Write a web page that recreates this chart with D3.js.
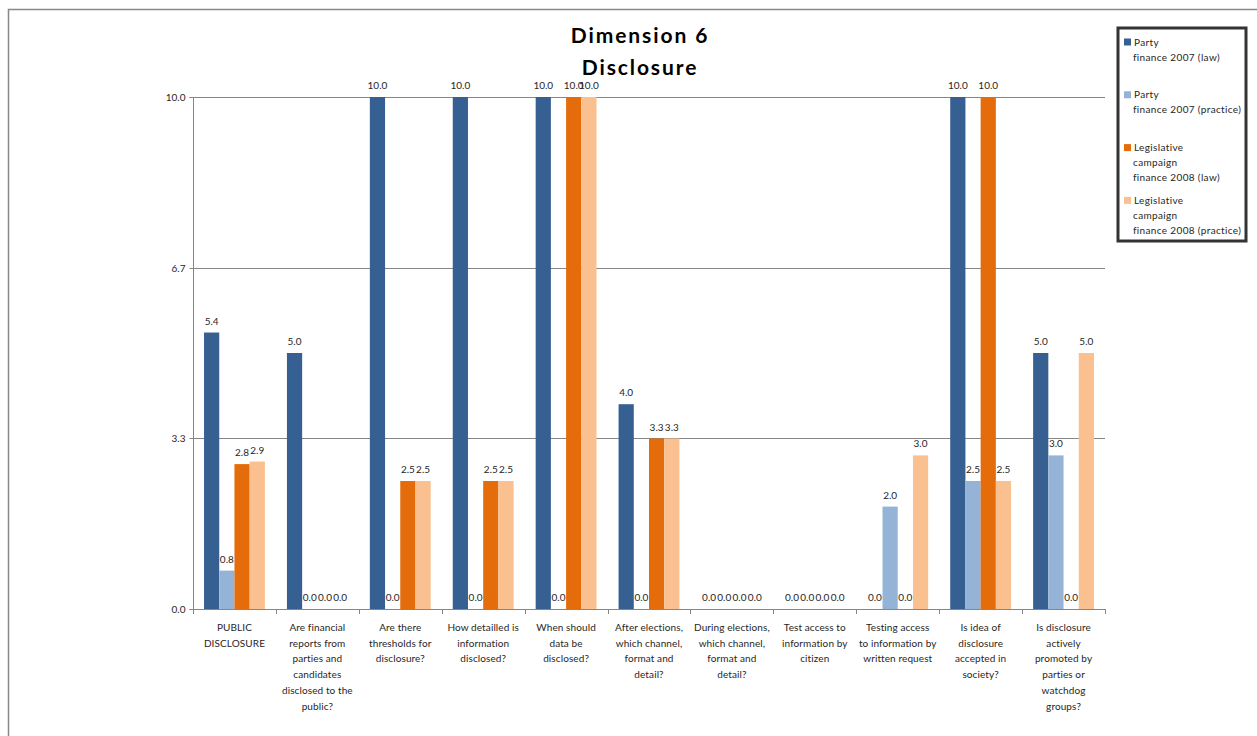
<!DOCTYPE html>
<html>
<head>
<meta charset="utf-8">
<script src="https://cdn.jsdelivr.net/npm/d3@7"></script>
<style>
html,body{margin:0;padding:0;background:#fff;}
svg{display:block;}
text{font-family:Lato,"Open Sans",sans-serif;fill:#262626;}
</style>
</head>
<body>
<svg id="chart" width="1257" height="736"></svg>
<script>
const titleLines = ["Dimension 6", "Disclosure"];
const categories = [
  ["PUBLIC", "DISCLOSURE"],
  ["Are financial", "reports from", "parties and", "candidates", "disclosed to the", "public?"],
  ["Are there", "thresholds for", "disclosure?"],
  ["How detailled is", "information", "disclosed?"],
  ["When should", "data be", "disclosed?"],
  ["After elections,", "which channel,", "format and", "detail?"],
  ["During elections,", "which channel,", "format and", "detail?"],
  ["Test access to", "information by", "citizen"],
  ["Testing access", "to information by", "written request"],
  ["Is idea of", "disclosure", "accepted in", "society?"],
  ["Is disclosure", "actively", "promoted by", "parties or", "watchdog", "groups?"]
];
const seriesNames = [
  ["Party", "finance 2007 (law)"],
  ["Party", "finance 2007 (practice)"],
  ["Legislative", "campaign", "finance 2008 (law)"],
  ["Legislative", "campaign", "finance 2008 (practice)"]
];
const partyLaw2007 = [5.4, 5.0, 10, 10, 10, 4.0, 0, 0, 0, 10, 5.0];
const partyPractice2007 = [0.75, 0, 0, 0, 0, 0, 0, 0, 2.0, 2.5, 3.0];
const legislativeLaw2008 = [2.83, 0, 2.5, 2.5, 10, 3.33, 0, 0, 0, 10, 0];
const legislativePractice2008 = [2.88, 0, 2.5, 2.5, 10, 3.33, 0, 0, 3.0, 2.5, 5.0];
const yTickValues = [0, 10/3, 20/3, 10];
const yTickLabels = ["0.0", "3.3", "6.7", "10.0"];

const colors = ["#366092", "#95b3d7", "#e46c0a", "#fac090"];
const series = [partyLaw2007, partyPractice2007, legislativeLaw2008, legislativePractice2008];

const svg = d3.select("#chart");

// outer chart border
svg.append("path").attr("d", "M8.5,740 L8.5,9.5 L1260,9.5")
  .attr("fill", "none").attr("stroke", "#888").attr("stroke-width", 1.5);

const pLeft = 193, pRight = 1105, pTop = 97, pBottom = 609;
const x0 = d3.scaleBand().domain(d3.range(categories.length)).range([pLeft, pRight]).padding(0);
const bw = x0.bandwidth();
const x1 = d3.scaleBand().domain(d3.range(series.length)).range([bw * 0.133, bw * 0.867]).padding(0);
const y = d3.scaleLinear().domain([0, 10]).range([pBottom, pTop]);

// gridlines
svg.append("g").selectAll("line").data(yTickValues.filter(v => v > 0)).join("line")
  .attr("x1", pLeft).attr("x2", pRight)
  .attr("y1", d => Math.round(y(d)) + 0.5).attr("y2", d => Math.round(y(d)) + 0.5)
  .attr("stroke", "#868686").attr("stroke-width", 1);

// y axis
const yAxis = d3.axisLeft(y).tickValues(yTickValues).tickSize(4).tickPadding(4)
  .tickFormat((d, i) => yTickLabels[i]);
const gy = svg.append("g").attr("transform", `translate(${pLeft + 0.5},0.5)`).call(yAxis);
gy.select(".domain").attr("stroke", "#868686").attr("d", `M-4,${Math.round(pTop)}H0V${pBottom}H-4`);
gy.selectAll(".tick line").attr("stroke", "#868686");
gy.selectAll("text").attr("font-size", 10).attr("fill", "#262626").style("font-family", "Lato,sans-serif");
gy.selectAll(".tick").attr("transform", d => `translate(0,${Math.round(y(d))})`);

// x axis line and ticks
const gx = svg.append("g");
gx.append("line").attr("x1", pLeft).attr("x2", pRight + 1).attr("y1", pBottom + 0.5).attr("y2", pBottom + 0.5)
  .attr("stroke", "#868686");
gx.selectAll("line.tk").data(d3.range(categories.length + 1)).join("line").attr("class", "tk")
  .attr("x1", i => Math.round(pLeft + i * bw) + 0.5).attr("x2", i => Math.round(pLeft + i * bw) + 0.5)
  .attr("y1", pBottom).attr("y2", pBottom + 5).attr("stroke", "#868686");

// bars
const groups = svg.append("g").selectAll("g").data(categories).join("g")
  .attr("transform", (d, i) => `translate(${x0(i)},0)`);
groups.selectAll("rect").data((d, i) => series.map((s, k) => ({k, v: s[i]}))).join("rect")
  .attr("x", d => x1(d.k)).attr("width", x1.bandwidth())
  .attr("y", d => y(d.v)).attr("height", d => pBottom - y(d.v))
  .attr("fill", d => colors[d.k]);
groups.selectAll("text").data((d, i) => series.map((s, k) => ({k, v: s[i]}))).join("text")
  .attr("x", d => x1(d.k) + x1.bandwidth() / 2).attr("y", d => y(d.v) - 8)
  .attr("text-anchor", "middle").attr("font-size", 10)
  .text(d => d3.format(".1f")(d.v));

// category labels
const cl = svg.append("g").selectAll("text").data(categories).join("text")
  .attr("text-anchor", "middle").attr("font-size", 10).attr("letter-spacing", 0.1);
cl.each(function(lines, i) {
  d3.select(this).selectAll("tspan").data(lines).join("tspan")
    .attr("x", x0(i) + bw / 2).attr("y", (l, j) => 631 + j * 15.7).text(l => l);
});

// title
svg.append("g").selectAll("text").data(titleLines).join("text")
  .attr("x", 640).attr("y", (d, i) => 43 + i * 32)
  .attr("text-anchor", "middle").attr("font-size", 21).attr("font-weight", "bold")
  .attr("letter-spacing", 1.9).style("fill", "#000").text(d => d);

// legend
const lg = svg.append("g");
lg.append("rect").attr("x", 1118).attr("y", 28).attr("width", 128).attr("height", 213)
  .attr("fill", "#fff").attr("stroke", "#333").attr("stroke-width", 3);
const entries = lg.selectAll("g").data(seriesNames).join("g")
  .attr("transform", (d, i) => `translate(1124,${42 + i * 52.8})`);
entries.append("rect").attr("x", 0).attr("y", -3.5).attr("width", 7).attr("height", 7)
  .attr("fill", (d, i) => colors[i]);
entries.append("text").attr("font-size", 10).attr("letter-spacing", 0.35).each(function(lines) {
  d3.select(this).selectAll("tspan").data(lines).join("tspan")
    .attr("x", (l, j) => j === 0 ? 10 : 9).attr("y", (l, j) => 3.5 + j * 15).text(l => l);
});
</script>
</body>
</html>
